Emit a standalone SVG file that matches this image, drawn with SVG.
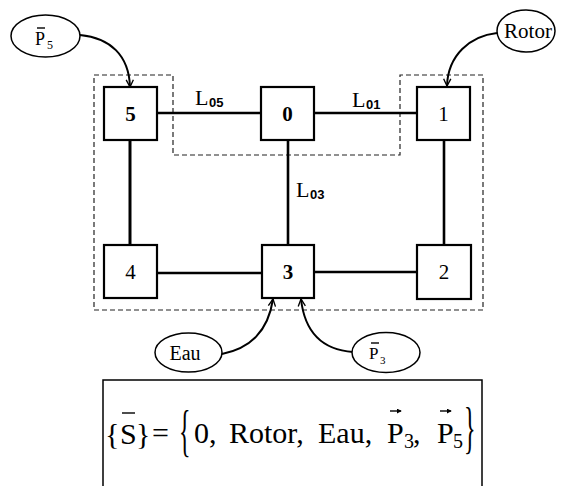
<svg xmlns="http://www.w3.org/2000/svg" width="562" height="486" viewBox="0 0 562 486">
  <style>
    .node rect { fill: #fff; stroke: #000; stroke-width: 2.2; }
    .node text { font-family: "Liberation Serif", "Times New Roman", serif; font-size: 21px; text-anchor: middle; }
    .link { stroke: #000; stroke-width: 2.6; fill: none; }
    .zone { fill: none; stroke: #222; stroke-width: 1.2; stroke-dasharray: 5 3; }
    .src ellipse { fill: #fff; stroke: #000; stroke-width: 1.5; }
    .feed { fill: none; stroke: #000; stroke-width: 2; marker-end: url(#ah); }
    .serif { font-family: "Liberation Serif", "Times New Roman", serif; }
    .lab { font-family: "Liberation Serif", "Times New Roman", serif; font-size: 22px; }
    .sub { font-family: "Liberation Sans", Arial, sans-serif; font-weight: bold; font-size: 13px; }
    .eq { font-family: "Liberation Serif", "Times New Roman", serif; font-size: 30px; }
    .eqs { font-family: "Liberation Serif", "Times New Roman", serif; font-size: 20px; }
    .bar { stroke: #000; stroke-width: 1.4; }
  </style>
  <defs>
    <marker id="ah" viewBox="0 0 10 10" refX="9" refY="5" markerWidth="9" markerHeight="9" markerUnits="userSpaceOnUse" orient="auto">
      <path d="M1,1 L9,5 L1,9" fill="none" stroke="#000" stroke-width="1.5"/>
    </marker>
    <marker id="vh" viewBox="0 0 6 6" refX="5" refY="3" markerWidth="5" markerHeight="5" markerUnits="userSpaceOnUse" orient="auto">
      <path d="M0,0 L6,3 L0,6 Z" fill="#000"/>
    </marker>
  </defs>

  <!-- dashed zone boundary with a notch around node 0 -->
  <path class="zone" d="M94,75 H173 V155 H400 V75 H483 V310 H94 Z"/>

  <!-- connectors -->
  <g id="connectors">
    <line class="link" x1="157" y1="113" x2="261" y2="113"/>
    <line class="link" x1="314" y1="113" x2="417" y2="113"/>
    <line class="link" x1="288" y1="140" x2="288" y2="245"/>
    <line class="link" x1="130" y1="140" x2="130" y2="246" style="stroke-width:3"/>
    <line class="link" x1="444" y1="140" x2="444" y2="245"/>
    <line class="link" x1="157" y1="273" x2="262" y2="273"/>
    <line class="link" x1="314" y1="272" x2="417" y2="272"/>
    <path class="feed" d="M80,35 C110,38 129,55 130,87"/>
    <path class="feed" d="M497,33 C470,36 448,55 447,86"/>
    <path class="feed" d="M222,354 C250,348 268,332 273,299"/>
    <path class="feed" d="M353,352 C325,350 305,335 301,299"/>
    <text class="lab" x="195" y="105">L</text>
    <text class="sub" x="209" y="107">05</text>
    <text class="lab" x="352" y="107">L</text>
    <text class="sub" x="366" y="109">01</text>
    <text class="lab" x="296" y="197">L</text>
    <text class="sub" x="310" y="199">03</text>
  </g>

  <!-- nodes -->
  <g id="n5" class="node"><rect x="104" y="87" width="53" height="53"/><text x="130.5" y="121" font-weight="bold">5</text></g>
  <g id="n0" class="node"><rect x="261" y="87" width="53" height="53"/><text x="287.5" y="121" font-weight="bold">0</text></g>
  <g id="n1" class="node"><rect x="417" y="87" width="53" height="53"/><text x="443.5" y="121">1</text></g>
  <g id="n4" class="node"><rect x="104" y="245" width="53" height="53"/><text x="130.5" y="279">4</text></g>
  <g id="n3" class="node"><rect x="262" y="245" width="52" height="53"/><text x="288" y="279" font-weight="bold">3</text></g>
  <g id="n2" class="node"><rect x="417" y="245" width="54" height="54"/><text x="444" y="279">2</text></g>

  <!-- external sources -->
  <g id="srcP5" class="src">
    <ellipse cx="45.5" cy="36" rx="34.5" ry="21"/>
    <line class="bar" x1="37" y1="28" x2="45" y2="28"/>
    <text class="serif" style="font-size:18px" x="35" y="45">P</text>
    <text class="serif" style="font-size:12px" x="47" y="49">5</text>
  </g>
  <g id="srcRotor" class="src">
    <ellipse cx="526" cy="31" rx="29" ry="21"/>
    <text class="serif" style="font-size:21px" x="528" y="38" text-anchor="middle">Rotor</text>
  </g>
  <g id="srcEau" class="src">
    <ellipse cx="188.5" cy="352.5" rx="33.5" ry="19.5"/>
    <text class="serif" style="font-size:20px" x="185" y="360" text-anchor="middle">Eau</text>
  </g>
  <g id="srcP3" class="src">
    <ellipse cx="386" cy="352.5" rx="34" ry="20"/>
    <line class="bar" x1="371" y1="343" x2="379" y2="343"/>
    <text class="serif" style="font-size:17px" x="369" y="359">P</text>
    <text class="serif" style="font-size:11px" x="380" y="364">3</text>
  </g>

  <!-- source set formula -->
  <g id="formula">
    <rect x="103" y="380" width="379" height="120" fill="none" stroke="#000" stroke-width="1.5"/>
    <text class="eq" x="105" y="444">{</text>
    <text class="eq" x="120" y="444">S</text>
    <line class="bar" x1="122" y1="413" x2="135" y2="413"/>
    <text class="eq" x="136" y="444">}</text>
    <text class="eq" x="152" y="443">=</text>
    <text class="eq" transform="translate(179,435) scale(0.8,1.9)" x="0" y="7.8">{</text>
    <text class="eq" x="194" y="443">0,</text>
    <text class="eq" x="229" y="443">Rotor,</text>
    <text class="eq" x="318" y="443">Eau,</text>
    <text class="eq" x="387" y="443">P</text>
    <line class="bar" x1="390" y1="411" x2="401" y2="411" marker-end="url(#vh)"/>
    <text class="eqs" x="404" y="448">3</text>
    <text class="eq" x="413" y="443">,</text>
    <text class="eq" x="437" y="443">P</text>
    <line class="bar" x1="440" y1="411" x2="451" y2="411" marker-end="url(#vh)"/>
    <text class="eqs" x="453" y="448">5</text>
    <text class="eq" transform="translate(464,432) scale(0.8,1.9)" x="0" y="7.8">}</text>
  </g>
</svg>
